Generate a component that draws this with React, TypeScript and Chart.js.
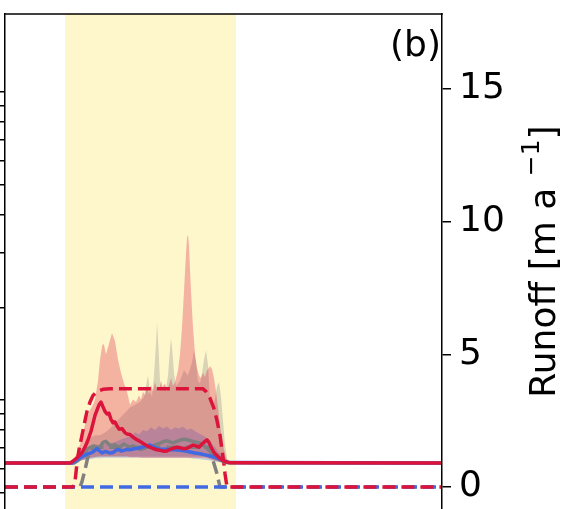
import React, { useEffect, useRef } from "react";
import { Chart, registerables } from "chart.js";

Chart.register(...registerables);

// ---- data ----
// time axis (days), melt-season window (shaded)
const timeMin = 0;
const timeMax = 437;
const shadeStart = 60;
const shadeEnd = 231;

// right axis: runoff [m a^-1]
const runoffMin = -0.83;
const runoffMax = 17.83;
const runoffTicks = [0, 5, 10, 15];

// left axis (log, labels outside the crop)
const logMin = 0.4428;
const logMax = 17.91;
const logTicks = [0.5, 0.6, 0.7, 0.8, 0.9, 1, 2, 3, 4, 5, 6, 7, 8, 9, 10];

const panelLabel = "(b)";
const titleMain = "Runoff [m a ";
const titleSup = "\u22121";
const titleEnd = "]";

// series: [time, runoff]
const redSolid: [number, number][] = [
  [0, 0.9], [65, 0.9], [67, 0.95], [72, 1.1], [77, 1.3], [80, 1.5], [83, 1.77], [86, 2.1], [88, 2.4],
  [90, 2.7], [92, 2.9], [94, 3.1], [96, 3.2], [98, 3.02], [100, 2.85], [102, 2.75], [104, 2.78],
  [106, 2.55], [108, 2.42], [110, 2.45], [112, 2.3], [114, 2.18], [117, 2.2], [120, 2.05], [122, 2.0],
  [125, 1.98], [128, 1.88], [131, 1.8], [135, 1.72], [139, 1.62], [142, 1.55], [145, 1.5], [148, 1.45],
  [152, 1.4], [155, 1.38], [159, 1.35], [162, 1.36], [165, 1.42], [168, 1.46], [172, 1.5], [175, 1.48],
  [179, 1.44], [182, 1.46], [185, 1.52], [188, 1.58], [191, 1.55], [194, 1.5], [197, 1.62], [200, 1.72],
  [202, 1.78], [204, 1.68], [206, 1.5], [209, 1.3], [212, 1.18], [215, 1.08], [218, 1.0], [221, 0.95],
  [225, 0.91], [437, 0.9],
];

const redDashed: [number, number][] = [
  [0, 0], [68, 0], [70, 0.2], [72, 0.9], [74, 1.4], [77, 1.95], [80, 2.5], [82, 2.85], [85, 3.2],
  [88, 3.45], [92, 3.6], [98, 3.68], [105, 3.7], [198, 3.7], [201, 3.6], [205, 3.35], [209, 2.95],
  [212, 2.5], [215, 1.95], [217, 1.4], [219, 0.85], [220, 0.5], [222, 0], [437, 0],
];

const grayDashed: [number, number][] = [
  [0, 0], [75, 0], [77, 0.2], [80, 0.65], [83, 1.15], [86, 1.4], [90, 1.5], [203, 1.5], [205, 1.42],
  [208, 1.0], [212, 0.5], [215, 0], [437, 0],
];

const blueDashed: [number, number][] = [
  [0, 0], [437, 0],
];

const graySolid: [number, number][] = [
  [0, 0.9], [69, 0.9], [73, 1.0], [77, 1.15], [80, 1.3], [83, 1.45], [86, 1.5], [89, 1.55], [92, 1.48],
  [95, 1.5], [98, 1.68], [101, 1.72], [104, 1.6], [107, 1.55], [110, 1.6], [113, 1.5], [116, 1.55],
  [119, 1.62], [122, 1.55], [125, 1.5], [128, 1.55], [131, 1.5], [135, 1.42], [139, 1.45], [142, 1.5],
  [145, 1.52], [148, 1.55], [151, 1.6], [155, 1.65], [159, 1.72], [162, 1.74], [165, 1.7], [168, 1.66],
  [172, 1.72], [175, 1.77], [179, 1.8], [182, 1.78], [185, 1.75], [188, 1.72], [192, 1.68], [195, 1.65],
  [199, 1.55], [202, 1.46], [205, 1.35], [208, 1.25], [212, 1.1], [215, 1.02], [219, 0.95], [223, 0.91],
  [437, 0.9],
];

const blueSolid: [number, number][] = [
  [0, 0.9], [67, 0.9], [71, 1.0], [75, 1.1], [79, 1.18], [82, 1.24], [85, 1.27], [88, 1.32], [90, 1.38],
  [92, 1.45], [94, 1.38], [97, 1.28], [100, 1.34], [102, 1.32], [105, 1.28], [108, 1.3], [111, 1.38],
  [113, 1.42], [116, 1.36], [119, 1.38], [122, 1.42], [125, 1.4], [129, 1.44], [133, 1.46], [137, 1.5],
  [141, 1.55], [145, 1.58], [148, 1.52], [151, 1.47], [155, 1.42], [160, 1.42], [165, 1.4], [170, 1.4],
  [175, 1.38], [180, 1.36], [185, 1.32], [190, 1.28], [195, 1.25], [200, 1.21], [205, 1.17], [210, 1.12],
  [215, 1.05], [220, 0.97], [225, 0.92], [437, 0.9],
];

// bands: [time, lower, upper]
const redBand: [number, number, number][] = [
  [0, 0.9, 0.9], [67, 0.9, 0.95], [71, 0.95, 1.2], [75, 1.0, 1.6], [79, 1.05, 2.2], [82, 1.08, 2.6],
  [85, 1.1, 2.9], [88, 1.12, 3.1], [90, 1.13, 3.3], [93, 1.15, 4.0], [95, 1.15, 4.8], [97, 1.15, 5.3],
  [98, 1.15, 5.4], [99, 1.15, 5.35], [101, 1.15, 5.0], [104, 1.15, 5.4], [107, 1.15, 5.8], [110, 1.15, 5.5],
  [113, 1.15, 4.8], [116, 1.15, 4.3], [119, 1.15, 3.9], [122, 1.15, 3.6], [125, 1.12, 3.1], [128, 1.12, 3.3],
  [131, 1.12, 3.2], [134, 1.12, 3.45], [136, 1.1, 3.3], [138, 1.1, 3.6], [140, 1.1, 3.45], [142, 1.1, 3.8],
  [144, 1.1, 3.5], [146, 1.1, 3.85], [148, 1.1, 3.6], [150, 1.1, 3.95], [152, 1.1, 3.7], [154, 1.1, 3.6],
  [156, 1.1, 4.0], [158, 1.1, 3.75], [160, 1.1, 3.9], [162, 1.1, 3.6], [164, 1.1, 3.85], [166, 1.1, 4.1],
  [168, 1.1, 3.8], [170, 1.1, 3.95], [173, 1.1, 4.4], [175, 1.1, 5.0], [177, 1.1, 6.0], [179, 1.1, 7.4],
  [181, 1.1, 8.8], [182, 1.1, 9.4], [183, 1.1, 9.5], [184, 1.1, 9.1], [185, 1.1, 8.2], [186, 1.1, 7.4],
  [188, 1.1, 6.0], [190, 1.1, 5.0], [192, 1.1, 4.5], [194, 1.1, 4.2], [196, 1.1, 4.1], [198, 1.1, 4.3],
  [200, 1.1, 4.15], [202, 1.08, 4.4], [205, 1.05, 4.55], [207, 1.03, 4.45], [209, 1.0, 4.1], [211, 0.98, 3.6],
  [213, 0.96, 3.0], [215, 0.94, 2.3], [217, 0.92, 1.8], [219, 0.91, 1.4], [221, 0.9, 1.1], [223, 0.9, 0.95],
  [225, 0.9, 0.9], [437, 0.9, 0.9],
];

const grayBand: [number, number, number][] = [
  [0, 0.9, 0.9], [69, 0.9, 0.9], [73, 0.95, 1.1], [77, 1.0, 1.4], [81, 1.05, 1.7], [85, 1.1, 1.85],
  [90, 1.12, 1.95], [95, 1.15, 1.95], [100, 1.15, 2.05], [105, 1.15, 2.2], [110, 1.15, 2.4], [115, 1.15, 2.6],
  [120, 1.15, 2.8], [125, 1.15, 3.0], [130, 1.15, 3.1], [135, 1.15, 3.2], [139, 1.15, 3.4], [141, 1.15, 3.8],
  [143, 1.15, 4.2], [145, 1.15, 3.6], [147, 1.15, 3.4], [149, 1.15, 4.2], [151, 1.15, 5.4], [152, 1.15, 6.2],
  [153, 1.15, 5.6], [155, 1.15, 4.0], [157, 1.15, 3.6], [159, 1.15, 3.9], [161, 1.15, 3.7], [163, 1.15, 4.2],
  [165, 1.15, 5.2], [166, 1.15, 5.6], [167, 1.15, 5.3], [169, 1.15, 4.3], [171, 1.15, 3.8], [175, 1.15, 4.0],
  [179, 1.15, 4.4], [183, 1.15, 4.2], [187, 1.15, 4.7], [189, 1.15, 5.15], [191, 1.15, 4.7], [193, 1.15, 4.0],
  [195, 1.15, 3.9], [197, 1.15, 4.3], [199, 1.15, 4.8], [201, 1.15, 5.15], [203, 1.12, 4.6], [205, 1.1, 3.2],
  [207, 1.05, 2.9], [210, 1.0, 3.3], [212, 0.98, 3.8], [214, 0.95, 3.95], [216, 0.93, 3.4], [218, 0.92, 2.5],
  [220, 0.91, 1.6], [222, 0.9, 1.1], [224, 0.9, 0.9], [437, 0.9, 0.9],
];

const blueBand: [number, number, number][] = [
  [0, 0.9, 0.9], [67, 0.9, 0.9], [71, 0.95, 1.05], [75, 1.0, 1.25], [80, 1.03, 1.4], [85, 1.05, 1.5],
  [90, 1.08, 1.6], [95, 1.08, 1.58], [100, 1.1, 1.62], [105, 1.1, 1.65], [110, 1.1, 1.7], [115, 1.1, 1.78],
  [120, 1.1, 1.85], [125, 1.1, 1.92], [130, 1.1, 2.05], [134, 1.1, 1.98], [138, 1.1, 2.15], [142, 1.1, 2.1],
  [146, 1.1, 2.25], [150, 1.1, 2.15], [154, 1.1, 2.3], [158, 1.1, 2.2], [162, 1.1, 2.28], [166, 1.1, 2.15],
  [170, 1.1, 2.25], [174, 1.1, 2.2], [178, 1.1, 2.28], [182, 1.1, 2.15], [186, 1.08, 2.2], [190, 1.06, 2.1],
  [195, 1.05, 2.0], [200, 1.02, 1.9], [205, 1.0, 1.7], [210, 0.97, 1.5], [215, 0.93, 1.25], [220, 0.9, 1.0],
  [225, 0.9, 0.9], [437, 0.9, 0.9],
];

// ---- styles ----
const FONT = "DejaVu Sans";
const RED = "#DC143C";
const GRAY = "#808080";
const BLUE = "#4169E1";
const LW = 3.5;
const DASH = [13, 6];

function lineDs(data: [number, number][], color: string, dashed: boolean) {
  return {
    data: data.map(([x, y]) => ({ x, y })),
    borderColor: color,
    backgroundColor: color,
    borderWidth: LW,
    borderDash: dashed ? DASH : [],
    borderCapStyle: dashed ? "butt" : "round",
    borderJoinStyle: "round",
    pointRadius: 0,
    fill: false,
    tension: 0,
    xAxisID: "x",
    yAxisID: "y",
  };
}

function bandDs(data: [number, number, number][], color: string) {
  const lo = {
    data: data.map(([x, l]) => ({ x, y: l })),
    borderWidth: 0,
    borderColor: "transparent",
    pointRadius: 0,
    fill: false,
    tension: 0,
    xAxisID: "x",
    yAxisID: "y",
  };
  const hi = {
    data: data.map(([x, , h]) => ({ x, y: h })),
    borderWidth: 0,
    borderColor: "transparent",
    backgroundColor: color,
    pointRadius: 0,
    fill: "-1",
    tension: 0,
    xAxisID: "x",
    yAxisID: "y",
  };
  return [lo, hi];
}

function noPadding(s: any, width: number) {
  s.width = width;
  s.paddingTop = 0;
  s.paddingBottom = 0;
  s.paddingLeft = 0;
  s.paddingRight = 0;
}

const decorPlugin = {
  id: "decor",
  beforeDatasetsDraw(chart: any) {
    const { ctx, chartArea: a, scales } = chart;
    const x0 = scales.x.getPixelForValue(shadeStart);
    const x1 = scales.x.getPixelForValue(shadeEnd);
    ctx.save();
    ctx.fillStyle = "rgba(255,215,0,0.2)";
    ctx.fillRect(x0, a.top, x1 - x0, a.bottom - a.top);
    ctx.restore();
  },
  afterDraw(chart: any) {
    const { ctx, chartArea: a } = chart;
    ctx.save();
    ctx.strokeStyle = "#000";
    ctx.lineWidth = 1.5;
    ctx.beginPath();
    ctx.moveTo(a.left - 0.75, a.top);
    ctx.lineTo(a.right + 0.75, a.top);
    ctx.stroke();

    ctx.fillStyle = "#000";
    ctx.font = `36px "${FONT}"`;
    ctx.textAlign = "right";
    ctx.textBaseline = "alphabetic";
    ctx.fillText(panelLabel, a.right - 1, a.top + 42);

    // rotated axis title with superscript
    const fMain = `36px "${FONT}"`;
    const fSup = `25px "${FONT}"`;
    ctx.font = fMain;
    const w1 = ctx.measureText(titleMain).width;
    const w3 = ctx.measureText(titleEnd).width;
    ctx.font = fSup;
    const w2 = ctx.measureText(titleSup).width;
    const total = w1 + w2 + w3;
    ctx.translate(chart.width - 7, (a.top + a.bottom) / 2);
    ctx.rotate(-Math.PI / 2);
    ctx.textAlign = "left";
    let x = -total / 2;
    ctx.font = fMain;
    ctx.fillText(titleMain, x, 0);
    x += w1;
    ctx.font = fSup;
    ctx.fillText(titleSup, x, -16);
    x += w2;
    ctx.font = fMain;
    ctx.fillText(titleEnd, x, 0);
    ctx.restore();
  },
};

export default function App() {
  const ref = useRef<HTMLCanvasElement>(null);
  useEffect(() => {
    const datasets: any[] = [
      ...bandDs(grayBand, "rgba(128,128,128,0.3)"),
      ...bandDs(blueBand, "rgba(65,105,225,0.3)"),
      ...bandDs(redBand, "rgba(220,20,60,0.3)"),
      lineDs(grayDashed, GRAY, true),
      lineDs(blueDashed, BLUE, true),
      lineDs(redDashed, RED, true),
      lineDs(graySolid, GRAY, false),
      lineDs(blueSolid, BLUE, false),
      lineDs(redSolid, RED, false),
    ];
    datasets.forEach((d, i) => (d.order = datasets.length - i));

    const chart = new Chart(ref.current as HTMLCanvasElement, {
      type: "line",
      data: { datasets },
      options: {
        responsive: false,
        animation: false,
        events: [],
        layout: { padding: { top: 14, bottom: 0, left: 0, right: 0 }, autoPadding: false },
        plugins: { legend: { display: false }, tooltip: { enabled: false } },
        scales: {
          x: { type: "linear", min: timeMin, max: timeMax, display: false },
          yLog: {
            type: "logarithmic",
            axis: "y",
            position: "left",
            min: logMin,
            max: logMax,
            afterBuildTicks: (s: any) => {
              s.ticks = logTicks.map((v) => ({ value: v }));
            },
            afterFit: (s: any) => noPadding(s, 5),
            ticks: { display: false },
            grid: { drawOnChartArea: false, drawTicks: true, tickLength: 5, color: "#000", lineWidth: 1.5 },
            border: { display: true, color: "#000", width: 1.5, z: 1 },
          },
          y: {
            type: "linear",
            position: "right",
            min: runoffMin,
            max: runoffMax,
            afterBuildTicks: (s: any) => {
              s.ticks = runoffTicks.map((v) => ({ value: v }));
            },
            afterFit: (s: any) => noPadding(s, 120),
            ticks: {
              color: "#000",
              padding: 8,
              font: { family: FONT, size: 36 },
              callback: (v: any) => String(v),
            },
            grid: { drawOnChartArea: false, drawTicks: true, tickLength: 9, color: "#000", lineWidth: 1.5 },
            border: { display: true, color: "#000", width: 1.5, z: 1 },
          },
        },
      } as any,
      plugins: [decorPlugin],
    });
    return () => chart.destroy();
  }, []);

  return (
    <div style={{ position: "fixed", left: 0, top: 0, width: 562, height: 509, background: "#fff" }}>
      <canvas ref={ref} width={562} height={509} style={{ display: "block" }} />
    </div>
  );
}
